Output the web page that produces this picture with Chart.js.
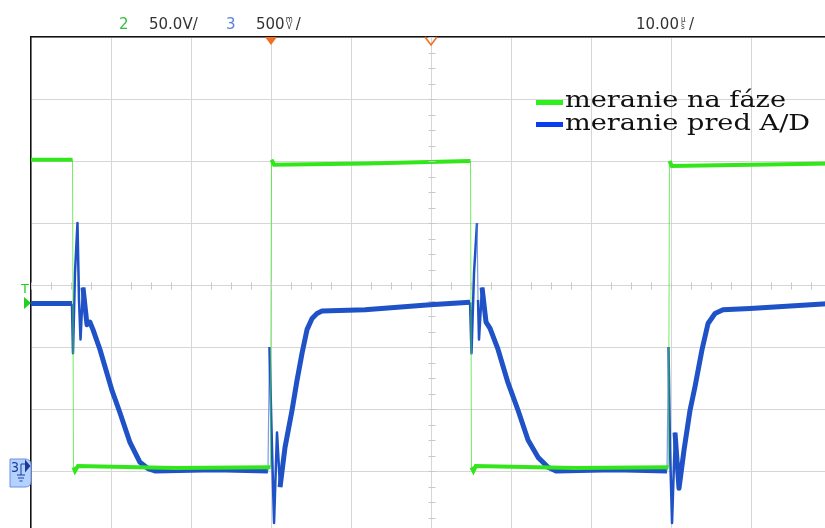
<!DOCTYPE html>
<html>
<head>
<meta charset="utf-8">
<script src="https://cdn.jsdelivr.net/npm/chart.js@4"></script>
<style>
  html, body { margin: 0; padding: 0; background: #fff; overflow: hidden; }
  #wrap { position: absolute; left: 0; top: 0; width: 840px; height: 540px; }
</style>
</head>
<body>
<div id="wrap"><canvas id="scope" width="840" height="540"></canvas></div>
<script>
// time in microseconds, 0 = trigger
var tGreen = [-30, -24.81, -24.69, -24.5, -24.13, -12, -0.06, 0.06, 0.38, 12, 24.94, 25.06, 25.3, 25.6, 38, 49.69, 49.81, 50.1, 60, 70];
// channel 2, volts (50 V/div)
var vGreen = [251, 251, 3, 0, 4, 2.5, 3, 251, 247, 248, 250, 3, 0, 4, 2.5, 3, 250, 246, 247, 248];

var tBlue = [-30, -24.88, -24.75, -24.5, -24.19, -24.0, -23.81, -23.5, -23.0, -22.63, -22.25, -21.38, -19.88, -18.88, -17.63, -16.38, -15.38, -14.5, -7, -0.38,
  -0.19, 0.13, 0.38, 0.75, 1.13, 1.75, 2.63, 3.25, 3.88, 4.5, 5.13, 5.75, 6.38, 11.75, 19.88, 24.88,
  25.06, 25.38, 25.75, 25.88, 26.0, 26.38, 26.88, 27.38, 28.38, 29.63, 30.88, 32.13, 33.38, 34.63, 35.63, 43, 49.5,
  49.69, 49.88, 50.13, 50.5, 51.0, 51.63, 52.38, 53.0, 53.88, 54.63, 55.5, 56.5, 59.88, 70];
// channel 3, volts (500 mV/div)
var vBlue = [1.35, 1.35, 0.95, 1.6, 2.0, 1.38, 1.06, 1.48, 1.18, 1.2, 1.14, 0.98, 0.65, 0.47, 0.23, 0.07, 0.02, 0.0, 0.01, 0.0,
  1.0, 0.17, -0.42, 0.31, -0.13, 0.19, 0.49, 0.73, 0.95, 1.14, 1.23, 1.27, 1.29, 1.3, 1.34, 1.36,
  0.95, 1.6, 2.0, 1.38, 1.06, 1.48, 1.2, 1.15, 0.98, 0.71, 0.49, 0.25, 0.11, 0.03, 0.0, 0.01, 0.0,
  1.0, 0.17, -0.42, 0.31, -0.14, 0.17, 0.49, 0.68, 0.98, 1.19, 1.27, 1.3, 1.31, 1.35];

var topLabels = ["2", "50.0V/", "3", "500", "10.00"];
var legendLabels = ["meranie na fáze", "meranie pred A/D"];

function pts(xs, ys) {
  var out = [];
  for (var i = 0; i < xs.length; i++) out.push({x: xs[i], y: ys[i]});
  return out;
}

function slope(ctx) {
  var dx = Math.abs(ctx.p1.x - ctx.p0.x), dy = Math.abs(ctx.p1.y - ctx.p0.y);
  return dy / Math.max(dx, 0.1);
}

var scopeDeco = {
  id: 'scopeDeco',
  afterDatasetsDraw: function(chart) {
    var c = chart.ctx, a = chart.chartArea;
    var xs = chart.scales.x, ys = chart.scales.y3;
    c.save();
    // minor ticks on the center lines
    c.strokeStyle = '#c8c8c8';
    c.lineWidth = 1;
    var cy = Math.round(ys.getPixelForValue(1.5)) + 0.5;
    var cx = Math.round(xs.getPixelForValue(20)) + 0.5;
    var dx = (xs.getPixelForValue(10) - xs.getPixelForValue(0)) / 4;
    var dy = (ys.getPixelForValue(0) - ys.getPixelForValue(0.5)) / 4;
    c.beginPath();
    for (var x = a.left; x < a.right; x += dx) { c.moveTo(Math.round(x) + 0.5, cy - 3); c.lineTo(Math.round(x) + 0.5, cy + 4); }
    for (var y = a.top; y < a.bottom; y += dy) { c.moveTo(cx - 3, Math.round(y) + 0.5); c.lineTo(cx + 4, Math.round(y) + 0.5); }
    c.stroke();

    // legend
    var legCol = ['#2ef01a', '#0a3cf2'];
    c.font = '23px "DejaVu Serif"';
    var sx = 221 / c.measureText(legendLabels[0]).width;
    c.textBaseline = 'alphabetic';
    c.textAlign = 'left';
    for (var i = 0; i < legendLabels.length; i++) {
      c.fillStyle = legCol[i];
      c.fillRect(536, 100 + i * 22, 27, 5);
      c.fillStyle = '#111';
      c.save();
      c.translate(565, 107 + i * 23);
      c.scale(sx, 1);
      c.fillText(legendLabels[i], 0, 0);
      c.restore();
    }

    // trigger markers
    c.fillStyle = '#f07020';
    c.strokeStyle = '#f07020';
    c.lineWidth = 1.6;
    var tx = xs.getPixelForValue(0);
    c.beginPath(); c.moveTo(tx - 6, a.top); c.lineTo(tx + 6, a.top); c.lineTo(tx, a.top + 8); c.closePath(); c.fill();
    var hx = xs.getPixelForValue(20);
    c.beginPath(); c.moveTo(hx - 6, a.top); c.lineTo(hx, a.top + 8); c.lineTo(hx + 6, a.top); c.stroke();

    // trigger level marker
    c.fillStyle = '#22d022';
    c.font = '13px "DejaVu Sans"';
    c.textAlign = 'center';
    c.textBaseline = 'middle';
    c.fillText('T', 25, 290);
    c.beginPath(); c.moveTo(24, 297); c.lineTo(31, 303); c.lineTo(24, 309); c.closePath(); c.fill();

    // channel 3 ground marker
    c.fillStyle = '#b4d2ff';
    c.strokeStyle = '#6d8fe0';
    c.lineWidth = 1;
    c.beginPath();
    c.moveTo(10, 459); c.lineTo(25, 459); c.quadraticCurveTo(31, 459, 31, 465);
    c.lineTo(31, 481); c.quadraticCurveTo(31, 487, 25, 487); c.lineTo(10, 487); c.closePath();
    c.fill(); c.stroke();
    c.fillStyle = '#1a3a9a';
    c.font = '14px "DejaVu Sans Condensed"';
    c.fillText('3', 15, 468);
    c.strokeStyle = '#1a3a9a';
    c.beginPath();
    c.moveTo(21, 464); c.lineTo(21, 475); c.moveTo(17, 475); c.lineTo(25, 475);
    c.moveTo(18, 478); c.lineTo(24, 478); c.moveTo(19.5, 481); c.lineTo(22.5, 481);
    c.moveTo(21, 464); c.lineTo(25, 464);
    c.stroke();
    c.beginPath(); c.moveTo(25, 459.5); c.lineTo(30.5, 466); c.lineTo(25, 472.5); c.closePath(); c.fill();

    // top status line
    c.textAlign = 'left';
    c.textBaseline = 'alphabetic';
    c.font = '15px "DejaVu Sans"';
    var base = 29;
    c.fillStyle = '#33c040'; c.fillText(topLabels[0], 119, base);
    c.fillStyle = '#333'; c.fillText(topLabels[1], 149, base);
    c.fillStyle = '#5a7fe0'; c.fillText(topLabels[2], 226, base);
    c.fillStyle = '#333'; c.fillText(topLabels[3], 256, base);
    var ex = 256 + c.measureText(topLabels[3]).width + 1;
    c.font = '8px "DejaVu Sans Condensed"';
    c.fillText('m', ex, base - 7);
    c.fillText('V', ex + 1, base);
    c.font = '15px "DejaVu Sans"';
    c.fillText('/', ex + 10, base);
    c.fillText(topLabels[4], 636, base);
    ex = 636 + c.measureText(topLabels[4]).width + 1;
    c.font = '8px "DejaVu Sans Condensed"';
    c.fillText('µ', ex + 1, base - 7);
    c.fillText('s', ex + 1, base);
    c.font = '15px "DejaVu Sans"';
    c.fillText('/', ex + 9, base);
    c.restore();
  }
};

var chart = new Chart(document.getElementById('scope').getContext('2d'), {
  type: 'line',
  data: {
    datasets: [{
      label: legendLabels[0],
      data: pts(tGreen, vGreen),
      yAxisID: 'y2',
      borderColor: '#33e61c',
      borderWidth: 4,
      segment: {
        borderWidth: function(ctx) { return slope(ctx) > 20 ? 1 : 4; },
        borderColor: function(ctx) { return slope(ctx) > 20 ? 'rgba(70,225,50,0.75)' : '#33e61c'; }
      }
    }, {
      label: legendLabels[1],
      data: pts(tBlue, vBlue),
      yAxisID: 'y3',
      borderColor: '#1f52c6',
      borderWidth: 5,
      borderJoinStyle: 'round',
      segment: {
        borderWidth: function(ctx) { var s = slope(ctx); return s > 70 ? 1.2 : (s > 15 ? 2.5 : 5); },
        borderColor: function(ctx) { return slope(ctx) > 70 ? 'rgba(90,130,225,0.8)' : '#1f52c6'; }
      }
    }]
  },
  options: {
    responsive: false,
    animation: false,
    layout: { padding: { left: 31, top: 37, right: 9, bottom: 7 } },
    elements: { point: { radius: 0 }, line: { tension: 0 } },
    plugins: { legend: { display: false }, tooltip: { enabled: false } },
    scales: {
      x: {
        type: 'linear', position: 'top', min: -30, max: 70,
        ticks: { display: false, stepSize: 10 },
        grid: { color: '#d6d6d6', drawTicks: false },
        border: { display: true, color: '#111', width: 1.5 }
      },
      y3: {
        type: 'linear', position: 'left', min: -0.5, max: 3.5,
        ticks: { display: false, stepSize: 0.5 },
        grid: { color: '#d6d6d6', drawTicks: false },
        border: { display: true, color: '#111', width: 1.5 }
      },
      y2: {
        type: 'linear', display: false, min: -50, max: 350
      }
    }
  },
  plugins: [scopeDeco]
});
</script>
</body>
</html>
